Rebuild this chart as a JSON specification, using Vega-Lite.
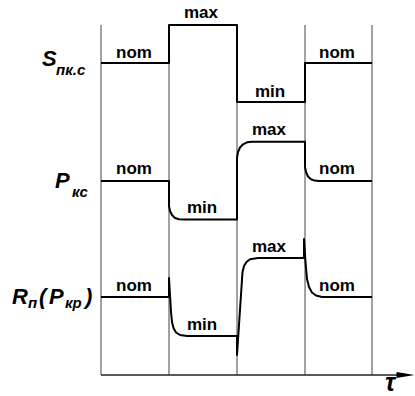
{
  "$schema": "https://vega.github.io/schema/vega-lite/v6.json",
  "width": 415,
  "height": 396,
  "padding": 0,
  "autosize": "none",
  "background": "white",
  "config": {"view": {"stroke": null}, "text": {"font": "Liberation Sans"}},
  "datasets": {
    "grid": [
      {"x": 101, "y1": 25, "y2": 375},
      {"x": 169, "y1": 25, "y2": 375},
      {"x": 237, "y1": 25, "y2": 375},
      {"x": 305, "y1": 25, "y2": 375},
      {"x": 372, "y1": 25, "y2": 375}
    ],
    "axis": [{"x1": 101, "x2": 401, "y": 375}],
    "arrow": [{"x": 405.5, "y": 375}],
    "traces": [
      {"s": "S", "i": 0, "x": 101, "y": 63},
      {"s": "S", "i": 1, "x": 169, "y": 63},
      {"s": "S", "i": 2, "x": 169, "y": 25},
      {"s": "S", "i": 3, "x": 237, "y": 25},
      {"s": "S", "i": 4, "x": 237, "y": 102},
      {"s": "S", "i": 5, "x": 305, "y": 102},
      {"s": "S", "i": 6, "x": 305, "y": 63},
      {"s": "S", "i": 7, "x": 372, "y": 63},

      {"s": "P", "i": 0, "x": 101, "y": 181},
      {"s": "P", "i": 1, "x": 169, "y": 181},
      {"s": "P", "i": 2, "x": 169, "y": 206},
      {"s": "P", "i": 3, "x": 170, "y": 211},
      {"s": "P", "i": 4, "x": 172, "y": 215},
      {"s": "P", "i": 5, "x": 175, "y": 218},
      {"s": "P", "i": 6, "x": 179, "y": 219.3},
      {"s": "P", "i": 7, "x": 184, "y": 219.5},
      {"s": "P", "i": 8, "x": 237, "y": 219.5},
      {"s": "P", "i": 9, "x": 237, "y": 158},
      {"s": "P", "i": 10, "x": 238, "y": 152},
      {"s": "P", "i": 11, "x": 240, "y": 147.5},
      {"s": "P", "i": 12, "x": 243, "y": 144.3},
      {"s": "P", "i": 13, "x": 247, "y": 142.3},
      {"s": "P", "i": 14, "x": 252, "y": 141.7},
      {"s": "P", "i": 15, "x": 305, "y": 141.7},
      {"s": "P", "i": 16, "x": 305, "y": 167},
      {"s": "P", "i": 17, "x": 306, "y": 172},
      {"s": "P", "i": 18, "x": 308, "y": 176.5},
      {"s": "P", "i": 19, "x": 311, "y": 179.3},
      {"s": "P", "i": 20, "x": 314.5, "y": 180.6},
      {"s": "P", "i": 21, "x": 319, "y": 181},
      {"s": "P", "i": 22, "x": 372, "y": 181},

      {"s": "R", "i": 0, "x": 101, "y": 297},
      {"s": "R", "i": 1, "x": 169, "y": 297},
      {"s": "R", "i": 2, "x": 169, "y": 278},
      {"s": "R", "i": 3, "x": 170, "y": 295},
      {"s": "R", "i": 4, "x": 171, "y": 312},
      {"s": "R", "i": 5, "x": 172, "y": 322},
      {"s": "R", "i": 6, "x": 173.5, "y": 328},
      {"s": "R", "i": 7, "x": 176, "y": 332.5},
      {"s": "R", "i": 8, "x": 180, "y": 335},
      {"s": "R", "i": 9, "x": 187, "y": 336},
      {"s": "R", "i": 10, "x": 237, "y": 336},
      {"s": "R", "i": 11, "x": 237, "y": 355},
      {"s": "R", "i": 12, "x": 242.5, "y": 272},
      {"s": "R", "i": 13, "x": 244, "y": 266},
      {"s": "R", "i": 14, "x": 246.5, "y": 262},
      {"s": "R", "i": 15, "x": 250, "y": 259.3},
      {"s": "R", "i": 16, "x": 258, "y": 258},
      {"s": "R", "i": 17, "x": 304, "y": 258},
      {"s": "R", "i": 18, "x": 304, "y": 239},
      {"s": "R", "i": 19, "x": 305.5, "y": 262},
      {"s": "R", "i": 20, "x": 307, "y": 279},
      {"s": "R", "i": 21, "x": 309, "y": 287},
      {"s": "R", "i": 22, "x": 312, "y": 292.5},
      {"s": "R", "i": 23, "x": 316, "y": 295.5},
      {"s": "R", "i": 24, "x": 322, "y": 297},
      {"s": "R", "i": 25, "x": 372, "y": 297}
    ],
    "levels": [
      {"x": 134, "y": 57.5, "t": "nom"},
      {"x": 201, "y": 17.5, "t": "max"},
      {"x": 270, "y": 96.5, "t": "min"},
      {"x": 337, "y": 57.5, "t": "nom"},
      {"x": 134, "y": 174, "t": "nom"},
      {"x": 202, "y": 212.5, "t": "min"},
      {"x": 269, "y": 135, "t": "max"},
      {"x": 337, "y": 174, "t": "nom"},
      {"x": 134, "y": 291, "t": "nom"},
      {"x": 202, "y": 329.5, "t": "min"},
      {"x": 269, "y": 251.5, "t": "max"},
      {"x": 337, "y": 291, "t": "nom"}
    ],
    "mainLetters": [
      {"x": 42, "y": 66, "t": "S"},
      {"x": 55, "y": 187.5, "t": "P"},
      {"x": 12, "y": 303.5, "t": "R"},
      {"x": 39, "y": 303.5, "t": "("},
      {"x": 49, "y": 303.5, "t": "P"},
      {"x": 85, "y": 303.5, "t": ")"}
    ],
    "subLetters": [
      {"x": 56, "y": 74.5, "t": "пк.с"},
      {"x": 72, "y": 196.5, "t": "кс"},
      {"x": 28, "y": 308, "t": "п"},
      {"x": 65, "y": 307.5, "t": "кр"}
    ],
    "tau": [{"x": 390, "y": 391, "t": "τ"}]
  },
  "layer": [
    {
      "data": {"name": "grid"},
      "mark": {"type": "rule", "stroke": "#444444", "strokeWidth": 1},
      "encoding": {
        "x": {"field": "x", "type": "quantitative", "scale": {"domain": [0, 415], "nice": false, "zero": false}, "axis": null},
        "y": {"field": "y1", "type": "quantitative", "scale": {"domain": [0, 396], "reverse": true, "nice": false, "zero": false}, "axis": null},
        "y2": {"field": "y2"}
      }
    },
    {
      "data": {"name": "axis"},
      "mark": {"type": "rule", "stroke": "#222222", "strokeWidth": 1.3},
      "encoding": {
        "x": {"field": "x1", "type": "quantitative"},
        "x2": {"field": "x2"},
        "y": {"field": "y", "type": "quantitative"}
      }
    },
    {
      "data": {"name": "arrow"},
      "mark": {"type": "point", "shape": "M-1,-0.34L1,0L-1,0.34Z", "filled": true, "fill": "black", "stroke": null, "opacity": 1, "size": 324},
      "encoding": {
        "x": {"field": "x", "type": "quantitative"},
        "y": {"field": "y", "type": "quantitative"}
      }
    },
    {
      "data": {"name": "traces"},
      "mark": {"type": "line", "stroke": "black", "strokeWidth": 2, "strokeJoin": "round", "strokeCap": "butt"},
      "encoding": {
        "x": {"field": "x", "type": "quantitative"},
        "y": {"field": "y", "type": "quantitative"},
        "detail": {"field": "s", "type": "nominal"},
        "order": {"field": "i", "type": "quantitative"}
      }
    },
    {
      "data": {"name": "levels"},
      "mark": {"type": "text", "fontSize": 17, "fontWeight": "bold", "align": "center", "baseline": "alphabetic", "fill": "black"},
      "encoding": {
        "x": {"field": "x", "type": "quantitative"},
        "y": {"field": "y", "type": "quantitative"},
        "text": {"field": "t"}
      }
    },
    {
      "data": {"name": "mainLetters"},
      "mark": {"type": "text", "fontSize": 22, "fontWeight": "bold", "fontStyle": "italic", "align": "left", "baseline": "alphabetic", "fill": "black"},
      "encoding": {
        "x": {"field": "x", "type": "quantitative"},
        "y": {"field": "y", "type": "quantitative"},
        "text": {"field": "t"}
      }
    },
    {
      "data": {"name": "subLetters"},
      "mark": {"type": "text", "fontSize": 15, "fontWeight": "bold", "fontStyle": "italic", "align": "left", "baseline": "alphabetic", "fill": "black"},
      "encoding": {
        "x": {"field": "x", "type": "quantitative"},
        "y": {"field": "y", "type": "quantitative"},
        "text": {"field": "t"}
      }
    },
    {
      "data": {"name": "tau"},
      "mark": {"type": "text", "fontSize": 25, "fontWeight": "bold", "fontStyle": "italic", "align": "center", "baseline": "alphabetic", "fill": "black"},
      "encoding": {
        "x": {"field": "x", "type": "quantitative"},
        "y": {"field": "y", "type": "quantitative"},
        "text": {"field": "t"}
      }
    }
  ]
}
